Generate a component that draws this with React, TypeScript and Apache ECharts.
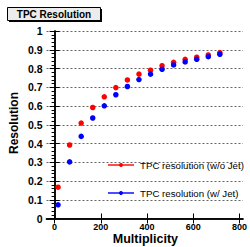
import { useEffect, useRef } from "react";
import * as echarts from "echarts";

const multiplicity = [15, 65, 115, 165, 215, 265, 315, 365, 415, 465, 515, 565, 615, 665, 715];
const resNoJet = [0.167, 0.392, 0.509, 0.592, 0.649, 0.698, 0.739, 0.77, 0.791, 0.815, 0.833, 0.849, 0.86, 0.872, 0.885];
const resWithJet = [0.073, 0.302, 0.438, 0.536, 0.601, 0.66, 0.704, 0.741, 0.77, 0.796, 0.819, 0.835, 0.849, 0.863, 0.876];
const xTicks = [0, 200, 400, 600, 800];
const seriesNames = ["TPC resolution (w/o Jet)", "TPC resolution (w/ Jet)"];
const titleText = "TPC Resolution";
const xTitle = "Multiplicity";
const yTitle = "Resolution";

const FONT = "'Liberation Sans', Arial, Helvetica, sans-serif";

export default function App() {
  const ref = useRef<HTMLDivElement>(null);
  useEffect(() => {
    const chart = echarts.init(ref.current!, null, { renderer: "svg" });
    const pts = (ys: number[]) => multiplicity.map((x, i) => [x, ys[i]]);
    const axisLine = { show: true, lineStyle: { color: "#000", width: 1.5 } };
    chart.setOption({
      animation: false,
      backgroundColor: "#fff",
      grid: { left: 46.5, right: 5, top: 31, bottom: 28.5, containLabel: false },
      xAxis: [
        {
          type: "value",
          position: "bottom",
          min: -35,
          max: 815,
          axisLine,
          axisTick: { show: true, inside: true, length: 5, customValues: xTicks, lineStyle: { color: "#000", width: 1 } },
          axisLabel: {
            customValues: xTicks,
            color: "#000",
            fontFamily: FONT,
            fontWeight: "bold",
            fontSize: 9,
            margin: 4,
          },
          splitLine: { show: false },
        },
        {
          type: "value",
          position: "top",
          min: -35,
          max: 815,
          axisLine,
          axisTick: { show: true, inside: true, length: 5, customValues: xTicks, lineStyle: { color: "#000", width: 1 } },
          axisLabel: { show: false },
          splitLine: { show: false },
        },
      ],
      yAxis: [
        {
          type: "value",
          position: "left",
          min: 0,
          max: 1,
          interval: 0.1,
          axisLine,
          axisTick: { show: true, inside: true, length: 5, lineStyle: { color: "#000", width: 1 } },
          axisLabel: {
            color: "#000",
            fontFamily: FONT,
            fontWeight: "bold",
            fontSize: 10.5,
            margin: 4,
          },
          splitLine: { show: true, lineStyle: { color: "#666", type: [2, 2], width: 1 } },
        },
        {
          type: "value",
          position: "right",
          min: 0,
          max: 1,
          interval: 0.1,
          axisLine,
          axisTick: { show: true, inside: true, length: 5, lineStyle: { color: "#000", width: 1 } },
          minorTick: { show: true, splitNumber: 5, length: 3, lineStyle: { color: "#000", width: 1 } },
          axisLabel: { show: false },
          splitLine: { show: false },
        },
      ],
      legend: {
        orient: "vertical",
        left: 102,
        top: 155,
        itemWidth: 26,
        itemHeight: 5,
        itemGap: 18,
        data: seriesNames,
        lineStyle: { width: 2, opacity: 0.7 },
        textStyle: { fontFamily: FONT, fontSize: 9.7, color: "#000", padding: [0, 0, 0, 1] },
        selectedMode: false,
      },
      series: [
        {
          name: seriesNames[0],
          type: "line",
          data: pts(resNoJet),
          symbol: "circle",
          symbolSize: 5.5,
          showSymbol: true,
          itemStyle: { color: "#ff0000" },
          lineStyle: { width: 0, color: "#ff0000" },
        },
        {
          name: seriesNames[1],
          type: "line",
          data: pts(resWithJet),
          symbol: "circle",
          symbolSize: 5.5,
          showSymbol: true,
          itemStyle: { color: "#0000ff" },
          lineStyle: { width: 0, color: "#0000ff" },
        },
      ],
      graphic: [
        { type: "rect", shape: { x: 9, y: 9, width: 93, height: 13 }, style: { fill: "#000" } },
        { type: "rect", shape: { x: 7.5, y: 7.5, width: 93, height: 13 }, style: { fill: "#ececec", stroke: "#000", lineWidth: 1 } },
        {
          type: "text",
          x: 54,
          y: 14,
          style: { text: titleText, fontFamily: FONT, fontWeight: "bold", fontSize: 10, fill: "#000", align: "center", verticalAlign: "middle" },
        },
        {
          type: "text",
          x: 14,
          y: 123,
          rotation: Math.PI / 2,
          style: { text: yTitle, fontFamily: FONT, fontWeight: "bold", fontSize: 12, fill: "#000", align: "center", verticalAlign: "middle" },
        },
        {
          type: "text",
          x: 178,
          y: 239,
          style: { text: xTitle, fontFamily: FONT, fontWeight: "bold", fontSize: 12.5, fill: "#000", align: "right", verticalAlign: "middle" },
        },
      ],
    });
    return () => chart.dispose();
  }, []);
  return <div ref={ref} style={{ position: "absolute", left: 0, top: 0, width: 250, height: 247 }} />;
}
